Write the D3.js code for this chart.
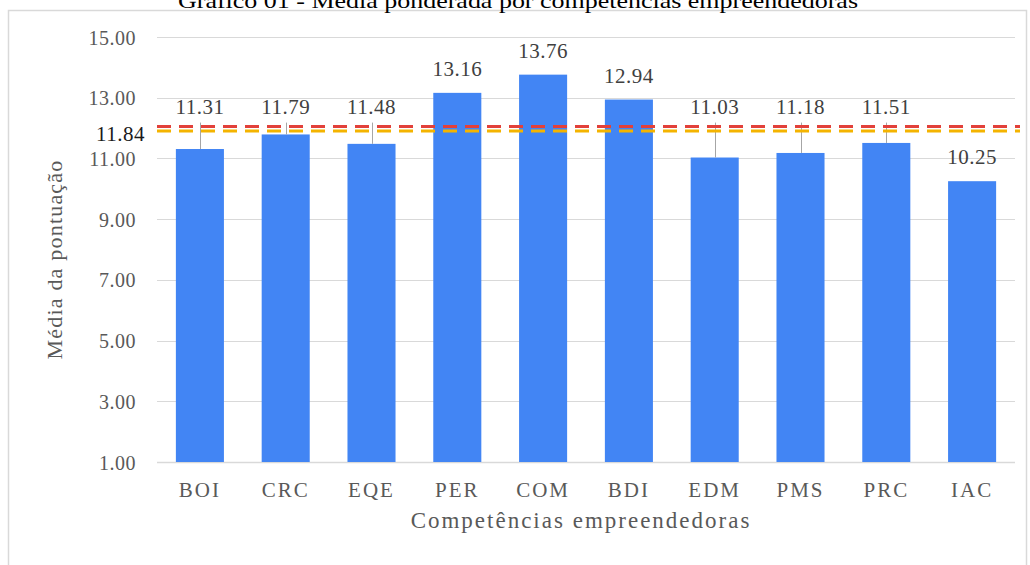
<!DOCTYPE html>
<html lang="pt">
<head>
    <meta charset="UTF-8" />
    <title>Gráfico 01</title>
    <script src="https://d3js.org/d3.v7.min.js"></script>
    <style>
        body { margin: 0; background: #fff; }
        svg text { font-family: "Liberation Serif", "DejaVu Serif", serif !important; }
        .grid line { stroke: #d9d9d9; }
        .bar { fill: #4285f4; }
        .erro { stroke: #a6a6a6; stroke-width: 1; }
        .lbl { fill: #404040; font-size: 21px; }
        .tick-lbl { fill: #595959; font-size: 20px; }
        .cat-lbl { fill: #595959; font-size: 21px; letter-spacing: 2px; }
    </style>
</head>
<body>
    <div id="chart"></div>
    <script>
        const width = 1030, height = 565;
        const serif = '"Liberation Serif", "DejaVu Serif", serif';

        // dados
        const competencias = ["BOI", "CRC", "EQE", "PER", "COM", "BDI", "EDM", "PMS", "PRC", "IAC"];
        const medias = [11.31, 11.79, 11.48, 13.16, 13.76, 12.94, 11.03, 11.18, 11.51, 10.25];
        const topoErro = [12.18, 12.18, 12.18, null, null, null, 12.18, 12.18, 12.18, null];
        const yTicks = [1, 3, 5, 7, 9, 11, 13, 15];
        const mediaGeral = 11.84;
        const linhaLaranja = 11.90;
        const linhaVermelha = 12.05;

        const margin = { left: 157, right: 15, top: 37, bottom: 103 };

        const svg = d3.select("#chart").append("svg")
            .attr("width", width)
            .attr("height", height)
            .attr("font-family", serif);

        // moldura
        svg.append("rect")
            .attr("x", 8.5).attr("y", 10.5)
            .attr("width", 1018).attr("height", 600)
            .attr("fill", "none")
            .attr("stroke", "#d9d9d9")
            .attr("stroke-width", 1.5);

        // título (cortado no topo, como no original)
        svg.append("text")
            .attr("x", 518).attr("y", 8)
            .attr("text-anchor", "middle")
            .attr("fill", "#000")
            .attr("textLength", 680)
            .attr("lengthAdjust", "spacingAndGlyphs")
            .style("font-family", serif)
            .style("font-size", "22px")
            .text("Gráfico 01 - Média ponderada por competências empreendedoras");

        const x = d3.scaleBand()
            .domain(competencias)
            .range([margin.left, width - margin.right])
            .paddingInner(0.44)
            .paddingOuter(0.22);

        const y = d3.scaleLinear()
            .domain([1, 15])
            .range([height - margin.bottom, margin.top]);

        // grade
        const grid = svg.append("g").attr("class", "grid");
        grid.selectAll("line")
            .data(yTicks)
            .enter().append("line")
            .attr("x1", margin.left)
            .attr("x2", width - margin.right)
            .attr("y1", d => Math.round(y(d)) + 0.5)
            .attr("y2", d => Math.round(y(d)) + 0.5)
            .attr("stroke-width", d => d === 1 ? 1.5 : 1);

        // eixo y
        const yAxis = svg.append("g")
            .attr("transform", `translate(${margin.left - 21},0)`)
            .call(d3.axisLeft(y).tickValues(yTicks).tickFormat(d3.format(".2f")).tickSize(0));
        yAxis.attr("font-family", null).attr("font-size", null);
        yAxis.select(".domain").remove();
        yAxis.selectAll("text").attr("class", "tick-lbl").attr("dy", "0.35em").attr("x", 0)
            .style("letter-spacing", "0.5px");

        // eixo x
        const xAxis = svg.append("g")
            .attr("transform", `translate(0,${height - margin.bottom})`)
            .call(d3.axisBottom(x).tickSize(0));
        xAxis.attr("font-family", null).attr("font-size", null);
        xAxis.select(".domain").remove();
        xAxis.selectAll("text").attr("class", "cat-lbl").attr("y", 35).attr("dy", 0);

        // barras
        svg.selectAll(".bar")
            .data(medias)
            .enter().append("rect")
            .attr("class", "bar")
            .attr("x", (d, i) => x(competencias[i]))
            .attr("width", x.bandwidth())
            .attr("y", d => y(d))
            .attr("height", d => y(1) - y(d));

        // linhas de erro
        svg.selectAll(".erro")
            .data(medias.map((d, i) => ({ v: d, e: topoErro[i], c: competencias[i] })).filter(d => d.e !== null))
            .enter().append("line")
            .attr("class", "erro")
            .attr("x1", d => Math.round(x(d.c) + x.bandwidth() / 2) + 0.5)
            .attr("x2", d => Math.round(x(d.c) + x.bandwidth() / 2) + 0.5)
            .attr("y1", d => y(d.v))
            .attr("y2", d => y(d.e));

        // linhas tracejadas
        [[linhaVermelha, "#e2403a"], [linhaLaranja, "#f4b400"]].forEach(([v, cor]) => {
            svg.append("line")
                .attr("x1", margin.left)
                .attr("x2", width - 10)
                .attr("y1", y(v))
                .attr("y2", y(v))
                .attr("stroke", cor)
                .attr("stroke-width", 3)
                .attr("stroke-dasharray", "14,8");
        });

        // rótulos dos valores
        svg.selectAll(".lbl")
            .data(medias)
            .enter().append("text")
            .attr("class", "lbl")
            .attr("text-anchor", "middle")
            .attr("x", (d, i) => x(competencias[i]) + x.bandwidth() / 2)
            .attr("y", (d, i) => topoErro[i] !== null && topoErro[i] > d ? y(topoErro[i]) - 9 : y(d) - 17)
            .style("letter-spacing", "0.5px")
            .text(d => d3.format(".2f")(d));

        // rótulo da média geral
        svg.append("text")
            .attr("x", 145).attr("y", 141)
            .attr("text-anchor", "end")
            .attr("fill", "#1a1a1a")
            .style("font-size", "21px")
            .style("letter-spacing", "0.5px")
            .text(d3.format(".2f")(mediaGeral));

        // títulos dos eixos
        svg.append("text")
            .attr("transform", `translate(62,${(margin.top + height - margin.bottom) / 2 + 10}) rotate(-90)`)
            .attr("text-anchor", "middle")
            .attr("fill", "#595959")
            .style("font-size", "22px")
            .style("letter-spacing", "1.2px")
            .text("Média da pontuação");

        svg.append("text")
            .attr("x", 581).attr("y", 528)
            .attr("text-anchor", "middle")
            .attr("fill", "#595959")
            .style("font-size", "23px")
            .style("letter-spacing", "2px")
            .text("Competências empreendedoras");
    </script>
</body>
</html>
